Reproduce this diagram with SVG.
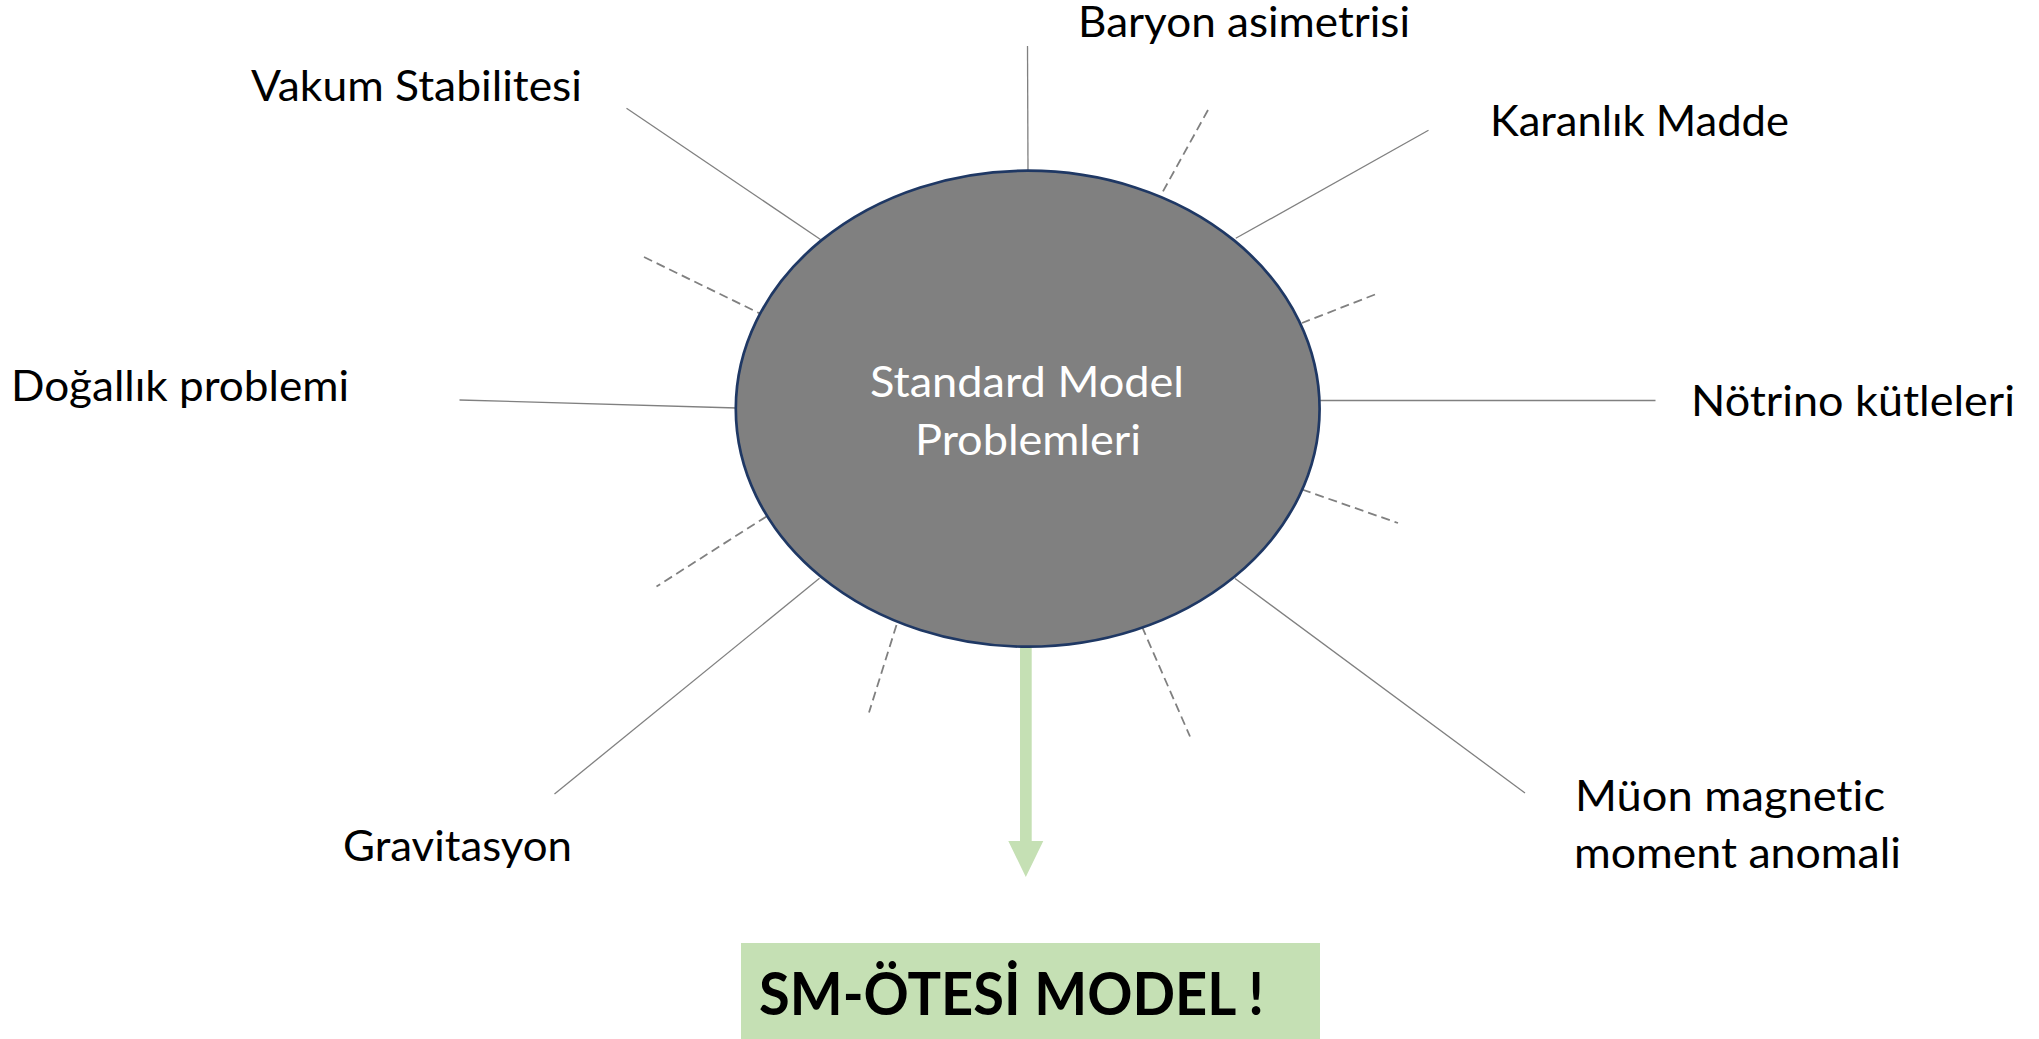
<svg xmlns="http://www.w3.org/2000/svg" width="2039" height="1039" viewBox="0 0 2039 1039">
  <style>
    text { font-variant-ligatures: none; font-feature-settings: "liga" 0, "clig" 0; }
    .lbl { font-family: Lato, "Open Sans", "Liberation Sans", sans-serif; font-size: 42px; fill: #000000; }
    .ctr { font-family: Lato, "Open Sans", "Liberation Sans", sans-serif; font-size: 42px; fill: #FFFFFF; text-anchor: middle; }
    .big { font-family: Lato, "Open Sans", "Liberation Sans", sans-serif; font-size: 59px; font-weight: bold; fill: #000000; }
    .solid { stroke: #808080; stroke-width: 1.3; fill: none; }
    .dash { stroke: #808080; stroke-width: 1.8; stroke-dasharray: 9 5; fill: none; }
  </style>
  <rect x="0" y="0" width="2039" height="1039" fill="#FFFFFF"/>

  <g id="connectors">
    <line class="solid" x1="1027.5" y1="46" x2="1028" y2="172"/>
    <line class="solid" x1="1428.5" y1="130.3" x2="1235.8" y2="238.3"/>
    <line class="solid" x1="1318" y1="400.5" x2="1655.5" y2="400.5"/>
    <line class="solid" x1="1235" y1="578.5" x2="1525" y2="793"/>
    <line class="solid" x1="819.5" y1="578.3" x2="554.5" y2="794"/>
    <line class="solid" x1="459.5" y1="400" x2="737" y2="408"/>
    <line class="solid" x1="626.5" y1="108.2" x2="820.5" y2="239.5"/>
    <line class="dash" x1="1208" y1="110" x2="1161" y2="195"/>
    <line class="dash" x1="1375" y1="294.5" x2="1302" y2="323"/>
    <line class="dash" x1="1302" y1="489.5" x2="1398" y2="523"/>
    <line class="dash" x1="1142" y1="626.7" x2="1190" y2="736.5"/>
    <line class="dash" x1="896.5" y1="625" x2="869" y2="712.5"/>
    <line class="dash" x1="766.5" y1="516.5" x2="656.5" y2="586.5"/>
    <line class="dash" x1="644" y1="257" x2="761" y2="314"/>
    <path id="arrow-down" d="M1020,646 L1031.7,646 L1031.7,841 L1043.3,841 L1025.8,877 L1008.3,841 L1020,841 Z" fill="#C5E0B4"/>
  </g>

  <g id="node-center">
    <ellipse cx="1027.7" cy="408.7" rx="291.9" ry="238" fill="#808080" stroke="#1F3864" stroke-width="2.7"/>
    <text class="ctr" x="1027" y="397" textLength="314" lengthAdjust="spacingAndGlyphs">Standard Model</text>
    <text class="ctr" x="1028" y="454.5" textLength="226" lengthAdjust="spacingAndGlyphs">Problemleri</text>
  </g>

  <g id="node-baryon">
    <text class="lbl" x="1078" y="37" textLength="332" lengthAdjust="spacingAndGlyphs">Baryon asimetrisi</text>
  </g>
  <g id="node-vakum">
    <text class="lbl" x="251" y="101" textLength="331" lengthAdjust="spacingAndGlyphs">Vakum Stabilitesi</text>
  </g>
  <g id="node-karanlik">
    <text class="lbl" x="1490" y="135.5" textLength="299" lengthAdjust="spacingAndGlyphs">Karanlık Madde</text>
  </g>
  <g id="node-dogallik">
    <text class="lbl" x="11" y="401" textLength="338" lengthAdjust="spacingAndGlyphs">Doğallık problemi</text>
  </g>
  <g id="node-notrino">
    <text class="lbl" x="1691" y="416" textLength="324" lengthAdjust="spacingAndGlyphs">Nötrino kütleleri</text>
  </g>
  <g id="node-gravitasyon">
    <text class="lbl" x="343" y="861" textLength="229" lengthAdjust="spacingAndGlyphs">Gravitasyon</text>
  </g>
  <g id="node-muon">
    <text class="lbl" x="1575" y="811" textLength="310" lengthAdjust="spacingAndGlyphs">Müon magnetic</text>
    <text class="lbl" x="1574" y="868" textLength="327" lengthAdjust="spacingAndGlyphs">moment anomali</text>
  </g>

  <g id="node-sm-otesi">
    <rect x="741" y="943" width="579" height="100" fill="#C5E0B4"/>
    <text class="big" x="759" y="1015" textLength="505" lengthAdjust="spacingAndGlyphs">SM-ÖTESİ MODEL !</text>
  </g>
</svg>
